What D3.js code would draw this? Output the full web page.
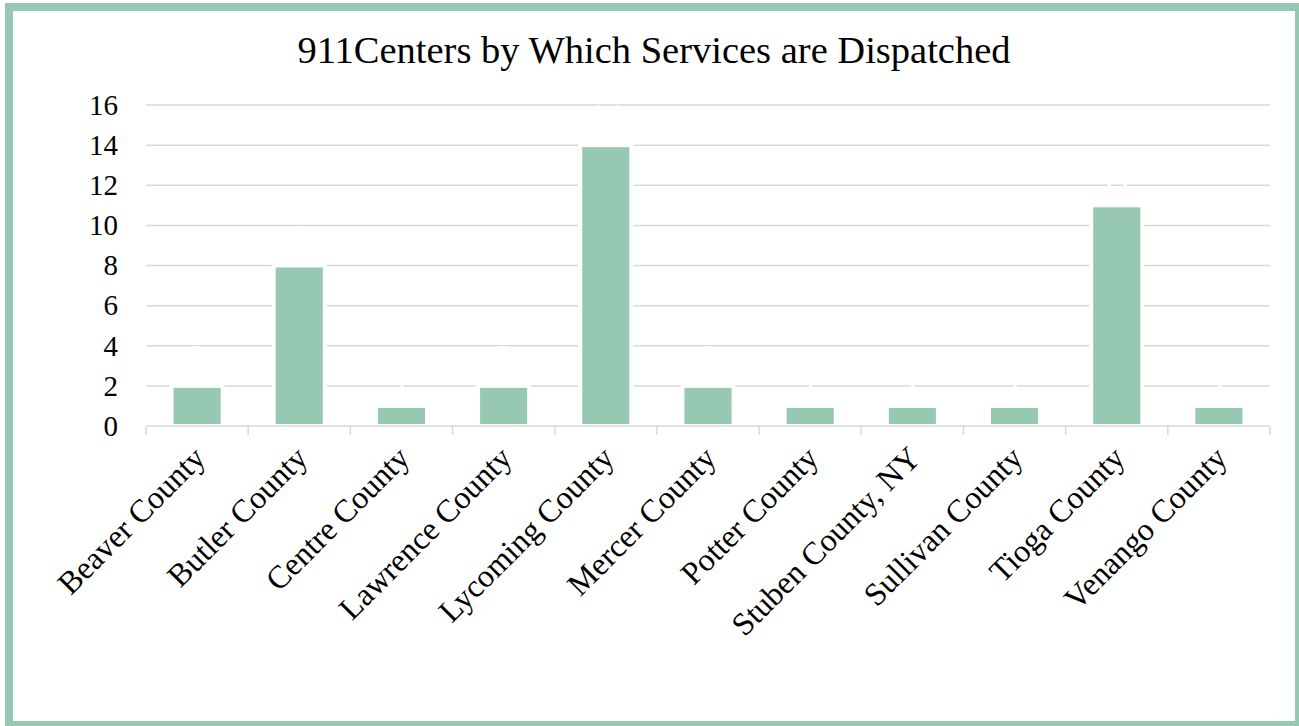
<!DOCTYPE html>
<html>
<head>
<meta charset="utf-8">
<script src="https://cdn.jsdelivr.net/npm/d3@7"></script>
<style>
  html, body { margin: 0; padding: 0; background: #ffffff; }
  svg { display: block; }
  text { font-family: "Liberation Serif", "Times New Roman", serif; fill: #000; }
</style>
</head>
<body>
<svg id="chart" width="1299" height="726"></svg>
<script>
// Number of 911 centers dispatching services, by county
const categories = [
  "Beaver County", "Butler County", "Centre County", "Lawrence County",
  "Lycoming County", "Mercer County", "Potter County", "Stuben County, NY",
  "Sullivan County", "Tioga County", "Venango County"
];
const values = [2, 8, 1, 2, 14, 2, 1, 1, 1, 11, 1];
const yTicks = [0, 2, 4, 6, 8, 10, 12, 14, 16];
const title = "911Centers by Which Services are Dispatched";

const W = 1299, H = 726;
const margin = { left: 146, right: 29, top: 105, bottom: 302 };
const svg = d3.select("#chart");
const barColor = "#97c8b1";

// outer frame
svg.append("rect")
  .attr("x", 9).attr("y", 7)
  .attr("width", 1290).attr("height", 718)
  .attr("fill", "#fff")
  .attr("stroke", barColor)
  .attr("stroke-width", 8);

const x = d3.scaleBand()
  .domain(categories)
  .range([margin.left, W - margin.right])
  .paddingInner(0.5)
  .paddingOuter(0.25);

const y = d3.scaleLinear()
  .domain([0, 16])
  .range([H - margin.bottom + 2, margin.top]);

// gridlines
svg.append("g")
  .selectAll("line")
  .data(yTicks.filter(d => d > 0))
  .join("line")
  .attr("x1", margin.left).attr("x2", W - margin.right)
  .attr("y1", d => y(d)).attr("y2", d => y(d))
  .attr("stroke", "#d9d9d9").attr("stroke-width", 1.5);

// y tick labels
svg.append("g")
  .selectAll("text")
  .data(yTicks)
  .join("text")
  .attr("x", 118)
  .attr("y", d => y(d))
  .attr("dy", "0.34em")
  .attr("text-anchor", "end")
  .attr("font-size", 29)
  .text(d => d);

// bars
svg.append("g")
  .selectAll("rect")
  .data(values)
  .join("rect")
  .attr("x", (d, i) => x(categories[i]))
  .attr("width", x.bandwidth())
  .attr("y", d => y(d))
  .attr("height", d => y(0) - y(d))
  .attr("fill", barColor)
  .attr("stroke", "#fff")
  .attr("stroke-width", 4);

// value labels (white)
svg.append("g")
  .selectAll("text")
  .data(values)
  .join("text")
  .attr("x", (d, i) => x(categories[i]) + x.bandwidth() / 2)
  .attr("y", d => y(d) - 18)
  .attr("text-anchor", "middle")
  .attr("font-size", 34)
  .style("fill", "#fff")
  .text(d => d);

// x axis baseline and tick marks
const gx = svg.append("g").attr("transform", `translate(0,${y(0)})`);
gx.append("line")
  .attr("x1", margin.left).attr("x2", W - margin.right)
  .attr("stroke", "#d9d9d9").attr("stroke-width", 1.5);
const step = x.step();
const boundaries = d3.range(categories.length + 1).map(i => margin.left + i * step);
gx.selectAll("line.tick")
  .data(boundaries)
  .join("line")
  .attr("class", "tick")
  .attr("x1", d => d).attr("x2", d => d)
  .attr("y1", 0).attr("y2", 9)
  .attr("stroke", "#d9d9d9").attr("stroke-width", 1.5);

// category labels, rotated
svg.append("g")
  .selectAll("text")
  .data(categories)
  .join("text")
  .attr("transform", d => `translate(${x(d) + x.bandwidth() / 2 + 2},${y(0) + 26}) rotate(-45)`)
  .attr("text-anchor", "end")
  .attr("dy", "0.35em")
  .attr("font-size", 32)
  .text(d => d);

// title
svg.append("text")
  .attr("x", 654)
  .attr("y", 63)
  .attr("text-anchor", "middle")
  .attr("font-size", 38.5)
  .text(title);
</script>
</body>
</html>
